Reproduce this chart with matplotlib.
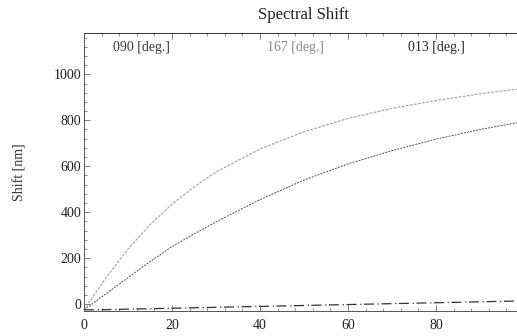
import matplotlib
matplotlib.use("Agg")
import matplotlib.pyplot as plt
from matplotlib.ticker import MultipleLocator

# Data
x_vals = [0, 5, 10, 15, 20, 25, 30, 40, 50, 60, 70, 80, 90, 100]
shift_167 = [-25, 115, 240, 345, 435, 510, 575, 675, 750, 808, 852, 886, 915, 940]
shift_090 = [-25, 45, 115, 185, 250, 305, 358, 455, 540, 610, 668, 718, 760, 795]
shift_013 = [-25, -24, -22, -20, -18, -16, -14, -10, -6, -2, 2, 6, 10, 14]

labels = ["090 [deg.]", "167 [deg.]", "013 [deg.]"]
label_x = [13, 48, 80]
label_colors = ["#3a3a3a", "#8a8a8a", "#2a2a2a"]

xticks = [0, 20, 40, 60, 80]
yticks = [0, 200, 400, 600, 800, 1000]

plt.rcParams['font.family'] = ['Liberation Serif', 'DejaVu Serif']

fig = plt.figure(figsize=(5.17, 3.36), dpi=100)
W, H = 517, 336
left, right, top, bottom = 84, 524, 33, 311
ax = fig.add_axes([left / W, 1 - bottom / H, (right - left) / W, (bottom - top) / H])

ax.plot(x_vals, shift_167, color="#a0a0a0", lw=0.8, ls=(0, (2.5, 1.2)))
ax.plot(x_vals, shift_090, color="#505050", lw=0.7, ls=(0, (2, 1.2)))
ax.plot(x_vals, shift_013, color="#333333", lw=0.9, ls=(0, (8, 3, 1, 2)))

ax.set_xlim(0, 100)
ax.set_ylim(-30, 1180)
ax.set_xticks(xticks)
ax.set_yticks(yticks)
ax.yaxis.set_minor_locator(MultipleLocator(40))
ax.xaxis.set_minor_locator(MultipleLocator(4))
ax.tick_params(axis='both', which='both', direction='in', top=True, right=True,
               labelsize=10, colors="#666666", labelcolor="#222222")
ax.tick_params(which='major', length=4, width=0.6)
ax.tick_params(which='minor', length=2, width=0.5)
ax.tick_params(axis='x', pad=6)
ax.tick_params(axis='y', pad=2)

for s in ax.spines.values():
    s.set_linestyle((0, (1.5, 1)))
    s.set_linewidth(0.7)
    s.set_color("#555555")
ax.spines['top'].set_linestyle((0, (4, 1)))
ax.spines['top'].set_color("#333333")

ax.set_title("Spectral Shift", fontsize=12, color="#222222", pad=10)
ax.set_ylabel("Shift [nm]", fontsize=10, color="#333333")
ax.yaxis.set_label_coords(-(84 - 26) / 440, 0.5)

for lx, lab, c in zip(label_x, labels, label_colors):
    ax.text(lx, 1115, lab, ha='center', va='center', fontsize=10, color=c)

fig.savefig("out.png", dpi=100)
